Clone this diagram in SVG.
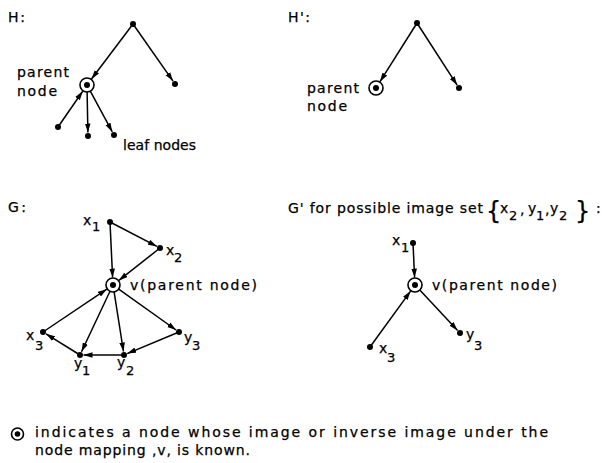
<svg xmlns="http://www.w3.org/2000/svg" width="605" height="463" viewBox="0 0 605 463">
<style>
text{font-family:"DejaVu Sans","Liberation Sans",sans-serif;font-size:14px;fill:#000;stroke:#000;stroke-width:0.25}
.sub{font-size:13px}
.dot{fill:#000}
.ring{fill:#fff;stroke:#000;stroke-width:1.6}
.e{stroke:#000;stroke-width:1.5;fill:none;marker-end:url(#ah)}
</style>
<defs>
<marker id="ah" markerUnits="userSpaceOnUse" markerWidth="9" markerHeight="6" refX="9" refY="3" orient="auto">
<path d="M0,0.2 L9,3 L0,5.8 z" fill="#000"/>
</marker>
</defs>
<rect width="605" height="463" fill="#fff"/>

<!-- titles -->
<text x="8" y="22" textLength="17">H:</text>
<text x="288" y="22" textLength="22">H':</text>
<text x="8" y="212" textLength="18">G:</text>
<text x="288" y="213" textLength="195" lengthAdjust="spacing">G' for possible image set</text>
<text x="486" y="219" style="font-size:24px">{</text>
<text x="500" y="213">x</text><text x="509" y="220" class="sub">2</text>
<text x="520" y="214">,</text>
<text x="528" y="213">y</text><text x="536" y="220" class="sub">1</text>
<text x="545" y="214">,</text>
<text x="550" y="213">y</text><text x="559" y="220" class="sub">2</text>
<text x="575" y="219" style="font-size:24px">}</text>
<text x="596" y="213">:</text>

<!-- connectors -->
<g id="connectors">
<!-- H -->
<line class="e" x1="133" y1="24" x2="91.5" y2="79"/>
<line class="e" x1="133" y1="24" x2="173" y2="81.1"/>
<line class="e" x1="58" y1="127" x2="82.7" y2="91.2"/>
<line class="e" x1="87.1" y1="92" x2="87.9" y2="132.5"/>
<line class="e" x1="90.3" y1="91.2" x2="112.3" y2="131.9"/>
<!-- H' -->
<line class="e" x1="417" y1="23" x2="380" y2="81.7"/>
<line class="e" x1="417" y1="23" x2="457.1" y2="85.1"/>
<!-- G -->
<line class="e" x1="110" y1="222" x2="112.6" y2="277.5"/>
<line class="e" x1="110" y1="222" x2="156.9" y2="246.4"/>
<line class="e" x1="160" y1="248" x2="118.9" y2="280.4"/>
<line class="e" x1="43" y1="332" x2="106.8" y2="289.2"/>
<line class="e" x1="110" y1="291.3" x2="81.5" y2="351.8"/>
<line class="e" x1="114.1" y1="291.9" x2="123.5" y2="351.5"/>
<line class="e" x1="118.7" y1="289.1" x2="176.1" y2="330"/>
<line class="e" x1="80" y1="355" x2="46" y2="333.8"/>
<line class="e" x1="124" y1="355" x2="83.5" y2="355"/>
<line class="e" x1="179" y1="332" x2="127.2" y2="353.6"/>
<!-- G' -->
<line class="e" x1="413" y1="243" x2="414.6" y2="277.5"/>
<line class="e" x1="370" y1="347" x2="410.6" y2="291.1"/>
<line class="e" x1="419.8" y1="290.1" x2="457.6" y2="330.4"/>
</g>

<!-- H nodes -->
<g id="H-root"><circle class="dot" cx="133" cy="24" r="3"/></g>
<g id="H-parent"><circle class="ring" cx="87" cy="85" r="7"/><circle class="dot" cx="87" cy="85" r="3"/>
<text x="17" y="77" textLength="52">parent</text><text x="17" y="96" textLength="40">node</text></g>
<g id="H-right"><circle class="dot" cx="175" cy="84" r="3"/></g>
<g id="H-leaf1"><circle class="dot" cx="58" cy="127" r="3"/></g>
<g id="H-leaf2"><circle class="dot" cx="88" cy="136" r="3"/></g>
<g id="H-leaf3"><circle class="dot" cx="114" cy="135" r="3"/><text x="123" y="150" textLength="73">leaf nodes</text></g>

<!-- H' nodes -->
<g id="Hp-root"><circle class="dot" cx="417" cy="23" r="3"/></g>
<g id="Hp-parent"><circle class="ring" cx="376" cy="88" r="7"/><circle class="dot" cx="376" cy="88" r="3"/>
<text x="307" y="93" textLength="52">parent</text><text x="307" y="111" textLength="40">node</text></g>
<g id="Hp-right"><circle class="dot" cx="459" cy="88" r="3"/></g>

<!-- G nodes -->
<g id="G-x1"><circle class="dot" cx="110" cy="222" r="3"/><text x="83" y="225">x</text><text x="92" y="231" class="sub">1</text></g>
<g id="G-x2"><circle class="dot" cx="160" cy="248" r="3"/><text x="166" y="255">x</text><text x="174" y="262" class="sub">2</text></g>
<g id="G-v"><circle class="ring" cx="113" cy="285" r="7"/><circle class="dot" cx="113" cy="285" r="3"/><text x="130" y="290" textLength="127">v(parent node)</text></g>
<g id="G-x3"><circle class="dot" cx="43" cy="332" r="3"/><text x="26" y="340">x</text><text x="35" y="350" class="sub">3</text></g>
<g id="G-y1"><circle class="dot" cx="80" cy="355" r="3"/><text x="74" y="368">y</text><text x="82" y="375" class="sub">1</text></g>
<g id="G-y2"><circle class="dot" cx="124" cy="355" r="3"/><text x="117" y="367">y</text><text x="126" y="375" class="sub">2</text></g>
<g id="G-y3"><circle class="dot" cx="179" cy="332" r="3"/><text x="184" y="342">y</text><text x="192" y="350" class="sub">3</text></g>

<!-- G' nodes -->
<g id="Gp-x1"><circle class="dot" cx="413" cy="243" r="3"/><text x="392" y="245">x</text><text x="401" y="252" class="sub">1</text></g>
<g id="Gp-v"><circle class="ring" cx="415" cy="285" r="7"/><circle class="dot" cx="415" cy="285" r="3"/><text x="432" y="290" textLength="125">v(parent node)</text></g>
<g id="Gp-x3"><circle class="dot" cx="370" cy="347" r="3"/><text x="379" y="353">x</text><text x="387" y="362" class="sub">3</text></g>
<g id="Gp-y3"><circle class="dot" cx="460" cy="333" r="3"/><text x="466" y="339">y</text><text x="474" y="350" class="sub">3</text></g>

<!-- legend -->
<g id="legend">
<circle class="ring" cx="17.5" cy="434" r="6"/><circle class="dot" cx="17.5" cy="434" r="2.8"/>
<text x="35" y="437" textLength="513" lengthAdjust="spacing">indicates a node whose image or inverse image under the</text>
<text x="35" y="455" textLength="215" lengthAdjust="spacing">node mapping ,v, is known.</text>
</g>
</svg>
